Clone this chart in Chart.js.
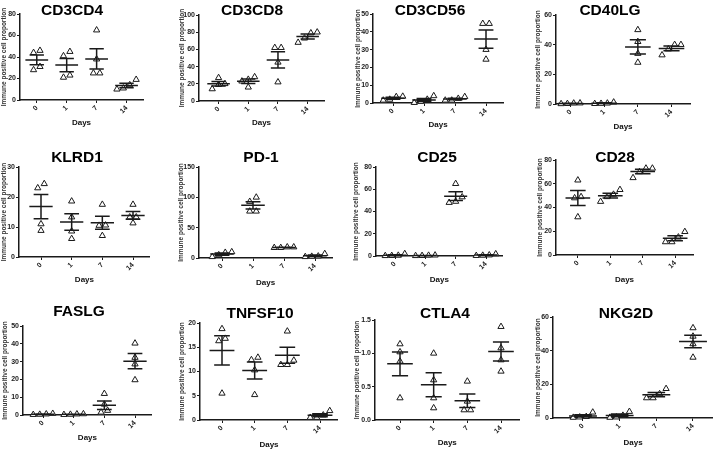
<!DOCTYPE html>
<html>
<head>
<meta charset="utf-8">
<script src="https://cdn.jsdelivr.net/npm/chart.js@4.4.0/dist/chart.umd.min.js"></script>
<style>
html, body { margin: 0; padding: 0; background: #fff; }
body { width: 713px; height: 451px; overflow: hidden; position: relative; }
canvas { position: absolute; }
</style>
</head>
<body>
<script>
// data: 4 donors per day
const days = ['0', '1', '7', '14'];
const markers = ['CD3CD4', 'CD3CD8', 'CD3CD56', 'CD40LG', 'KLRD1', 'PD-1', 'CD25', 'CD28', 'FASLG', 'TNFSF10', 'CTLA4', 'NKG2D'];

const cd3cd4 = [[46, 44, 31, 28], [45, 41, 23, 21], [65, 38, 25, 25], [19, 14, 11, 10]];
const cd3cd8 = [[27, 20, 19, 14], [28, 25, 23, 16], [62, 62, 45, 22], [80, 79, 73, 68]];
const cd3cd56 = [[3.5, 2, 1.5, 3.7], [4, 2, 0.2, 0.8], [3.5, 2.5, 1.5, 1.5], [44.6, 44.6, 30, 24.5]];
const cd40lg = [[0.5, 0.2, 0.1, 0.6], [0.5, 0.2, 0.3, 1.2], [50, 42, 34, 28], [40, 40, 37, 33]];
const klrd1 = [[23, 24.4, 11, 8.8], [18.6, 13.3, 8.6, 6.1], [17.5, 10.6, 10.5, 7.1], [17.5, 13.3, 13.3, 11.3]];
const pd1 = [[9, 5, 2, 10], [100, 93, 77, 77], [17, 18, 17, 18], [3, 2, 2.5, 7]];
const cd25 = [[0.5, 0.2, 0.3, 2], [0.3, 0.2, 0.5, 0.7], [65, 53, 49, 48], [0.5, 0.3, 0.8, 1.8]];
const cd28 = [[63, 49, 48, 32], [55, 51, 49, 45], [73, 73, 70, 65], [19.6, 15, 11, 11]];
const faslg = [[0.3, 0.5, 0.2, 0.8], [0.5, 0.3, 0.2, 0.6], [12, 6, 2.5, 1.5], [40.3, 32.3, 28.6, 19.7]];
const tnfsf10 = [[18.8, 16.8, 16.3, 5.5], [12.9, 12.4, 10.3, 5.2], [18.3, 12.3, 11.4, 11.4], [1.9, 1, 0.5, 0.5]];
const ctla4 = [[1.14, 1.02, 0.88, 0.33], [1.0, 0.6, 0.33, 0.18], [0.58, 0.28, 0.15, 0.15], [1.4, 1.08, 0.9, 0.73]];
const nkg2d = [[0.8, 0.3, 0.5, 3.4], [3.8, 1.5, 0.3, 0.5], [17.4, 14.3, 11.9, 11.9], [53.5, 48.5, 44, 36]];

const series = [cd3cd4, cd3cd8, cd3cd56, cd40lg, klrd1, pd1, cd25, cd28, faslg, tnfsf10, ctla4, nkg2d];
const yMax = [80, 100, 50, 60, 30, 150, 80, 80, 50, 20, 1.5, 60];
const yStep = [20, 20, 10, 20, 10, 50, 20, 20, 10, 5, 0.5, 20];

// where each little graph sits on the page (px): axis left, plot top/bottom,
// first/last category centre, title centre x / cap top, y title x, "Days" y
const boxes = [
  {L: 20, T: 14, B: 100, c0: 37, c3: 128, tx: 72, ty: 2, yT: 4, dY: 123},
  {L: 199, T: 15, B: 101, c0: 219, c3: 310, tx: 252, ty: 2, yT: 182, dY: 123},
  {L: 373, T: 14, B: 103, c0: 393, c3: 486, tx: 430, ty: 2, yT: 358, dY: 125},
  {L: 556, T: 15, B: 104, c0: 571, c3: 675, tx: 610, ty: 2, yT: 538, dY: 127},
  {L: 19, T: 167, B: 257, c0: 41, c3: 133, tx: 77, ty: 149, yT: 4, dY: 280},
  {L: 199, T: 167, B: 258, c0: 222, c3: 315, tx: 261, ty: 149, yT: 181, dY: 283},
  {L: 376, T: 167, B: 256, c0: 395, c3: 486, tx: 437, ty: 149, yT: 356, dY: 280},
  {L: 556, T: 160, B: 255, c0: 578, c3: 676, tx: 615, ty: 149, yT: 540, dY: 280},
  {L: 23, T: 326, B: 415, c0: 43, c3: 135, tx: 79, ty: 303, yT: 5, dY: 438},
  {L: 200, T: 323, B: 420, c0: 222, c3: 320, tx: 260, ty: 305, yT: 182, dY: 445},
  {L: 375, T: 320, B: 420, c0: 400, c3: 501, tx: 445, ty: 305, yT: 357, dY: 443},
  {L: 553, T: 317, B: 418, c0: 583, c3: 693, tx: 626, ty: 305, yT: 538, dY: 443}
];

const FONT = "'Liberation Sans', Arial, sans-serif";
const INK = '#1a1a1a';

// spread points that sit on top of each other side by side (like prism does)
function spread(vals, thresh) {
  const idx = vals.map((v, k) => k).sort((a, b) => vals[a] - vals[b]);
  const offs = vals.map(() => 0);
  let group = [idx[0]];
  const flush = () => group.forEach((k, j) => { offs[k] = j - (group.length - 1) / 2; });
  for (let n = 1; n < idx.length; n++) {
    if (vals[idx[n]] - vals[idx[n - 1]] < thresh) group.push(idx[n]);
    else { flush(); group = [idx[n]]; }
  }
  flush();
  return offs;
}

// mean line + SEM whiskers
const meanSem = {
  id: 'meanSem',
  afterDatasetsDraw(chart, args, opts) {
    const {ctx} = chart;
    const x = chart.scales.x, y = chart.scales.y;
    const s = x.getPixelForValue(1) - x.getPixelForValue(0);
    ctx.save();
    ctx.strokeStyle = INK;
    ctx.lineWidth = 1.5;
    opts.groups.forEach((g, i) => {
      const m = g.reduce((a, b) => a + b, 0) / g.length;
      const sd = Math.sqrt(g.reduce((a, b) => a + (b - m) * (b - m), 0) / (g.length - 1));
      const se = sd / Math.sqrt(g.length);
      const cx = x.getPixelForValue(i);
      const ym = y.getPixelForValue(m), yt = y.getPixelForValue(m + se), yb = y.getPixelForValue(m - se);
      ctx.beginPath();
      ctx.moveTo(cx - 0.38 * s, ym); ctx.lineTo(cx + 0.38 * s, ym);
      ctx.moveTo(cx, yt); ctx.lineTo(cx, yb);
      ctx.moveTo(cx - 0.24 * s, yt); ctx.lineTo(cx + 0.24 * s, yt);
      ctx.moveTo(cx - 0.24 * s, yb); ctx.lineTo(cx + 0.24 * s, yb);
      ctx.stroke();
    });
    ctx.restore();
  }
};

series.forEach((vals, k) => {
  const b = boxes[k];
  const s = (b.c3 - b.c0) / 3;
  const xmin = -(b.c0 - b.L) / s, xmax = 3.55;
  const R = b.c3 + 0.55 * s;
  // canvas is symmetric round the title centre, an empty right axis takes up the slack
  const left = Math.floor(Math.min(b.L - 24, 2 * b.tx - R));
  const right = 2 * b.tx - left;
  const wR = right - R;
  const top = Math.round(b.ty - 4);
  const bottom = Math.round(b.dY + 4.8);
  const yw = b.L - left;
  const xh = bottom - b.B;
  const padTop = b.ty + 8 - top;
  const padBot = Math.max(b.T - top - padTop - 2, 0);
  const tp = b.yT - left - 3.9;

  const thresh = yMax[k] * 6 / (b.B - b.T);
  const step = 6.5 / s;
  const pts = [];
  vals.forEach((g, i) => {
    const offs = spread(g, thresh);
    g.forEach((v, j) => pts.push({x: i + offs[j] * step, y: v}));
  });

  const cv = document.createElement('canvas');
  cv.width = Math.round(right - left);
  cv.height = bottom - top;
  cv.style.left = left + 'px';
  cv.style.top = top + 'px';
  document.body.appendChild(cv);

  const axisGrid = {display: true, drawOnChartArea: false, drawTicks: true, tickLength: 3, color: INK, lineWidth: 1};
  const axisBorder = {display: true, color: INK, width: 1.5};
  const tickFont = {family: FONT, size: 7, weight: 'bold'};

  new Chart(cv, {
    type: 'scatter',
    data: {
      datasets: [{
        data: pts,
        pointStyle: 'triangle',
        pointRadius: 3.6,
        pointBorderWidth: 1,
        pointBorderColor: INK,
        pointBackgroundColor: '#fff',
        clip: false
      }]
    },
    plugins: [meanSem],
    options: {
      responsive: false,
      animation: false,
      events: [],
      layout: {padding: 0},
      plugins: {
        legend: {display: false},
        tooltip: {enabled: false},
        title: {
          display: true, text: markers[k], color: '#000',
          font: {family: FONT, size: 15.5, weight: 'bold', lineHeight: '2px'},
          padding: {top: padTop, bottom: padBot}
        },
        meanSem: {groups: vals}
      },
      scales: {
        x: {
          type: 'linear', min: xmin, max: xmax,
          afterBuildTicks: sc => { sc.ticks = days.map((d, i) => ({value: i})); },
          afterFit: sc => { sc.height = xh; },
          ticks: {callback: v => days[v], minRotation: 45, maxRotation: 45, font: tickFont, color: '#222', padding: 1},
          grid: axisGrid,
          border: axisBorder,
          title: {display: true, text: 'Days', color: '#111', font: {family: FONT, size: 8, weight: 'bold'}, padding: 0}
        },
        y: {
          min: 0, max: yMax[k],
          afterFit: sc => { sc.width = yw; },
          ticks: {stepSize: yStep[k], callback: v => yStep[k] < 1 ? v.toFixed(1) : v, font: tickFont, color: '#222', padding: 1},
          grid: axisGrid,
          border: axisBorder,
          title: {
            display: true, text: 'Immune positive cell proportion', color: '#333',
            font: {family: FONT, size: 6.5, weight: 'bold'}, padding: {top: tp, bottom: 0}
          }
        },
        yR: {
          type: 'linear', position: 'right',
          afterFit: sc => { sc.width = wR; },
          ticks: {display: false},
          grid: {display: false},
          border: {display: false}
        }
      }
    }
  });
});
</script>
</body>
</html>
